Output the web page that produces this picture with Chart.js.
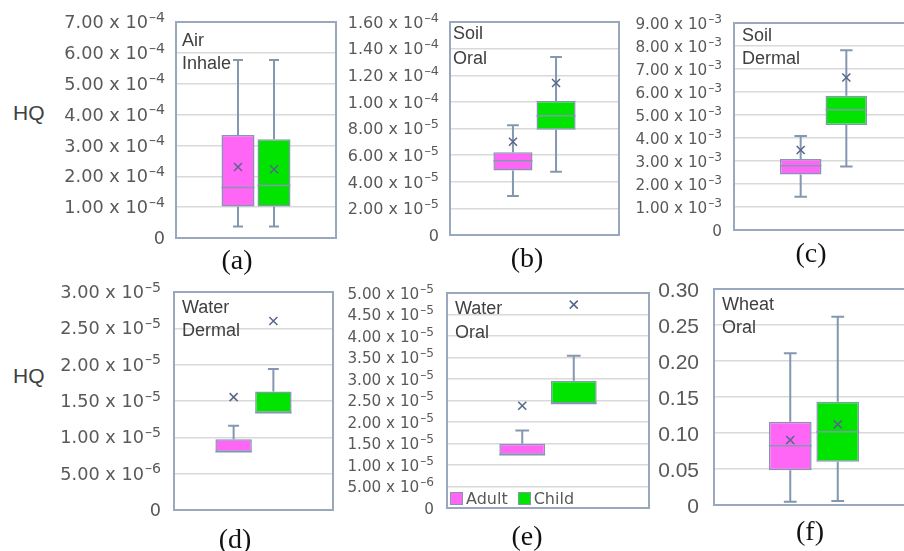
<!DOCTYPE html>
<html>
<head>
<meta charset="utf-8">
<script src="https://cdn.jsdelivr.net/npm/chart.js@4.4.0/dist/chart.umd.min.js"></script>
<style>
  html, body { margin: 0; padding: 0; background: #fff; }
  body { width: 904px; height: 551px; position: relative; overflow: hidden; font-family: 'Liberation Sans', Arial, sans-serif; }
  .panel { position: absolute; }
  .tag { position: absolute; font-size: 18px; color: #404040; white-space: nowrap; z-index: 2; }
  .letter { position: absolute; width: 80px; text-align: center; font-family: 'Liberation Serif', 'Times New Roman', serif; font-size: 28px; line-height: 30px; color: #111; }
  .hq { position: absolute; font-size: 21px; line-height: 24px; color: #404040; }
  .legend { position: absolute; font-family: 'DejaVu Sans', sans-serif; font-size: 16px; line-height: 16px; color: #595959; white-space: nowrap; z-index: 2; }
  .legend i { display: inline-block; width: 11px; height: 11px; border: 1px solid #8497b0; margin-right: 3px; vertical-align: -1px; }
</style>
</head>
<body>

<div class="hq" style="left:13px; top:101px;">HQ</div>
<div class="hq" style="left:13px; top:364px;">HQ</div>

<div class="panel" style="left:50px; top:8px; width:290px; height:244px;"><canvas id="chartA"></canvas></div>
<div class="panel" style="left:338px; top:8px; width:285px; height:241px;"><canvas id="chartB"></canvas></div>
<div class="panel" style="left:625px; top:9px; width:292px; height:235px;"><canvas id="chartC"></canvas></div>
<div class="panel" style="left:48px; top:278px; width:289px; height:246px;"><canvas id="chartD"></canvas></div>
<div class="panel" style="left:338px; top:279px; width:315px; height:243px;"><canvas id="chartE"></canvas></div>
<div class="panel" style="left:650px; top:275px; width:268px; height:244px;"><canvas id="chartF"></canvas></div>

<div class="tag" style="left:182px; top:29px; line-height:23px;">Air<br>Inhale</div>
<div class="tag" style="left:453px; top:21px; line-height:25px;">Soil<br>Oral</div>
<div class="tag" style="left:742px; top:24px; line-height:23px;">Soil<br>Dermal</div>
<div class="tag" style="left:182px; top:296px; line-height:23px;">Water<br>Dermal</div>
<div class="tag" style="left:455px; top:296px; line-height:24px;">Water<br>Oral</div>
<div class="tag" style="left:722px; top:293px; line-height:23px;">Wheat<br>Oral</div>

<div class="legend" style="left:450px; top:491px;"><i style="background:#ff66f5"></i>Adult<i style="background:#00e400; margin-left:10px;"></i>Child</div>

<div class="letter" style="left:197px; top:245px;">(a)</div>
<div class="letter" style="left:487px; top:243px;">(b)</div>
<div class="letter" style="left:771px; top:238px;">(c)</div>
<div class="letter" style="left:195px; top:524px;">(d)</div>
<div class="letter" style="left:487px; top:521px;">(e)</div>
<div class="letter" style="left:770px; top:516px;">(f)</div>

<script>
// box statistics, each: [min, q1, median, q3, max, mean]
const seriesNames = ['Adult', 'Child'];

const airAdult = [3.7e-5, 1.02e-4, 1.64e-4, 3.34e-4, 5.77e-4, 2.30e-4];
const airChild = [3.7e-5, 1.02e-4, 1.70e-4, 3.20e-4, 5.77e-4, 2.23e-4];

const soilOralAdult = [2.93e-5, 4.85e-5, 5.57e-5, 6.22e-5, 8.25e-5, 7.0e-5];
const soilOralChild = [4.75e-5, 7.9e-5, 8.95e-5, 1.007e-4, 1.337e-4, 1.142e-4];

const soilDermalAdult = [1.45e-3, 2.41e-3, 2.79e-3, 3.09e-3, 4.09e-3, 3.48e-3];
const soilDermalChild = [2.76e-3, 4.56e-3, 5.23e-3, 5.84e-3, 7.81e-3, 6.63e-3];

const waterDermalAdult = [8.03e-6, 8.03e-6, 8.03e-6, 9.74e-6, 1.16e-5, 1.553e-5];
const waterDermalChild = [1.34e-5, 1.34e-5, 1.34e-5, 1.63e-5, 1.94e-5, 2.60e-5];

const waterOralAdult = [1.24e-5, 1.24e-5, 1.24e-5, 1.495e-5, 1.80e-5, 2.38e-5];
const waterOralChild = [2.43e-5, 2.43e-5, 2.43e-5, 2.96e-5, 3.54e-5, 4.73e-5];

const wheatAdult = [0.0046, 0.0482, 0.0824, 0.1157, 0.2107, 0.0903];
const wheatChild = [0.0056, 0.0601, 0.1018, 0.1435, 0.2615, 0.112];

// y tick labels ("^" marks the exponent)
const ticksAir = ['0', '1.00 x 10^-4', '2.00 x 10^-4', '3.00 x 10^-4', '4.00 x 10^-4', '5.00 x 10^-4', '6.00 x 10^-4', '7.00 x 10^-4'];
const ticksSoilOral = ['0', '2.00 x 10^-5', '4.00 x 10^-5', '6.00 x 10^-5', '8.00 x 10^-5', '1.00 x 10^-4', '1.20 x 10^-4', '1.40 x 10^-4', '1.60 x 10^-4'];
const ticksSoilDermal = ['0', '1.00 x 10^-3', '2.00 x 10^-3', '3.00 x 10^-3', '4.00 x 10^-3', '5.00 x 10^-3', '6.00 x 10^-3', '7.00 x 10^-3', '8.00 x 10^-3', '9.00 x 10^-3'];
const ticksWaterDermal = ['0', '5.00 x 10^-6', '1.00 x 10^-5', '1.50 x 10^-5', '2.00 x 10^-5', '2.50 x 10^-5', '3.00 x 10^-5'];
const ticksWaterOral = ['0', '5.00 x 10^-6', '1.00 x 10^-5', '1.50 x 10^-5', '2.00 x 10^-5', '2.50 x 10^-5', '3.00 x 10^-5', '3.50 x 10^-5', '4.00 x 10^-5', '4.50 x 10^-5', '5.00 x 10^-5'];
const ticksWheat = ['0', '0.05', '0.10', '0.15', '0.20', '0.25', '0.30'];

const fillColors = ['#ff66f5', '#00e400'];
const lineColor = '#8497b0';
const meanColor = '#55668a';

// frame, whiskers, median, mean, all placed with the chart's own scales
const boxPlot = {
  id: 'boxPlot',
  beforeDatasetsDraw(chart) {
    const a = chart.chartArea, ctx = chart.ctx;
    ctx.save();
    ctx.strokeStyle = '#9aa8bd';
    ctx.lineWidth = 2;
    ctx.strokeRect(a.left, a.top, a.right - a.left, a.bottom - a.top);
    ctx.restore();
  },
  afterDatasetsDraw(chart) {
    const ctx = chart.ctx;
    const y = chart.scales.y;
    chart.data.datasets.forEach((ds, i) => {
      const bar = chart.getDatasetMeta(i).data[0];
      const s = ds.stats;
      const x = bar.x, half = bar.width / 2, cap = bar.width * 0.15;
      const py = v => y.getPixelForValue(v);
      ctx.save();
      ctx.strokeStyle = lineColor;
      ctx.lineWidth = 2;
      ctx.beginPath();
      if (s[4] > s[3]) {
        ctx.moveTo(x, py(s[3])); ctx.lineTo(x, py(s[4]));
        ctx.moveTo(x - cap, py(s[4])); ctx.lineTo(x + cap, py(s[4]));
      }
      if (s[0] < s[1]) {
        ctx.moveTo(x, py(s[1])); ctx.lineTo(x, py(s[0]));
        ctx.moveTo(x - cap, py(s[0])); ctx.lineTo(x + cap, py(s[0]));
      }
      ctx.stroke();
      ctx.lineWidth = 1.5;
      ctx.beginPath();
      ctx.moveTo(x - half, py(s[2])); ctx.lineTo(x + half, py(s[2]));
      ctx.stroke();
      const my = py(s[5]);
      ctx.strokeStyle = meanColor;
      ctx.beginPath();
      ctx.moveTo(x - 4, my - 4); ctx.lineTo(x + 4, my + 4);
      ctx.moveTo(x - 4, my + 4); ctx.lineTo(x + 4, my - 4);
      ctx.stroke();
      ctx.restore();
    });
  },
  // tick labels with a raised exponent, at the y scale's own tick positions
  afterDraw(chart) {
    const o = chart.options.plugins.boxPlot;
    const y = chart.scales.y, ctx = chart.ctx;
    const right = chart.chartArea.left - o.gap;
    ctx.save();
    ctx.fillStyle = '#595959';
    ctx.textBaseline = 'alphabetic';
    y.ticks.forEach((t, i) => {
      const parts = o.labels[i].split('^');
      const base = y.getPixelForTick(i) + o.size * 0.36;
      ctx.save();
      ctx.translate(right, base);
      ctx.scale(o.sx, 1);
      let x = 0;
      if (parts[1]) {
        const e = parts[1].replace('-', '\u2013');
        ctx.font = (o.size * 0.8) + 'px ' + o.family;
        const w = ctx.measureText(e).width;
        ctx.textAlign = 'left';
        ctx.fillText(e, -w, -o.size * 0.38);
        x = -w - 1;
      }
      ctx.font = o.size + 'px ' + o.family;
      ctx.textAlign = 'right';
      ctx.fillText(parts[0], x, 0);
      ctx.restore();
    });
    ctx.restore();
  }
};

function boxChart(id, adult, child, yMax, yStep, tickLabels, o) {
  const ctx = document.getElementById(id).getContext('2d');
  new Chart(ctx, {
    type: 'bar',
    data: {
      labels: [''],
      datasets: [adult, child].map((s, i) => ({
        label: seriesNames[i],
        data: [[s[1], s[3]]],
        stats: s,
        backgroundColor: fillColors[i],
        borderColor: lineColor,
        borderWidth: 1.5,
        borderSkipped: false,
        categoryPercentage: o.cp,
        barPercentage: o.bp
      }))
    },
    options: {
      responsive: true,
      maintainAspectRatio: false,
      animation: false,
      layout: { padding: { left: 0, right: 4, top: 14, bottom: 14 } },
      plugins: {
        legend: { display: false },
        tooltip: { enabled: false },
        boxPlot: { labels: tickLabels, size: o.font, sx: o.sx, gap: o.gap, family: o.family }
      },
      scales: {
        x: { display: false },
        y: {
          min: 0,
          max: yMax,
          afterFit: scale => { scale.width = o.yWidth; },
          border: { display: false },
          grid: { color: '#d9d9d9', lineWidth: 1.5, drawTicks: false },
          ticks: { display: false, stepSize: yStep }
        }
      }
    },
    plugins: [boxPlot]
  });
}

const dv = "'DejaVu Sans', sans-serif";
boxChart('chartA', airAdult, airChild, 7e-4, 1e-4, ticksAir, { yWidth: 126, font: 17, sx: 1.04, gap: 11, family: dv, cp: 0.45, bp: 0.917 });
boxChart('chartB', soilOralAdult, soilOralChild, 1.6e-4, 2e-5, ticksSoilOral, { yWidth: 112, font: 16, sx: 1.0, gap: 11, family: dv, cp: 0.51, bp: 0.907 });
boxChart('chartC', soilDermalAdult, soilDermalChild, 9e-3, 1e-3, ticksSoilDermal, { yWidth: 109, font: 16, sx: 0.95, gap: 12, family: dv, cp: 0.51, bp: 0.91 });
boxChart('chartD', waterDermalAdult, waterDermalChild, 3e-5, 5e-6, ticksWaterDermal, { yWidth: 126, font: 17, sx: 1.04, gap: 13, family: dv, cp: 0.50, bp: 0.917 });
boxChart('chartE', waterOralAdult, waterOralChild, 5e-5, 5e-6, ticksWaterOral, { yWidth: 109, font: 16, sx: 0.95, gap: 13, family: dv, cp: 0.51, bp: 0.89 });
boxChart('chartF', wheatAdult, wheatChild, 0.30, 0.05, ticksWheat, { yWidth: 64, font: 21, sx: 1, gap: 15, family: "'Liberation Sans', Arial, sans-serif", cp: 0.475, bp: 0.90 });
</script>
</body>
</html>
